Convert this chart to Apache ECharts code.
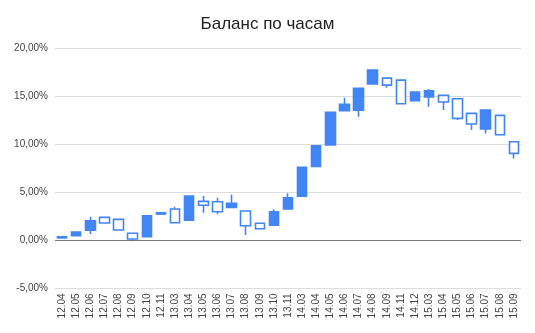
<!DOCTYPE html>
<html>
<head>
<meta charset="utf-8">
<script src="https://cdn.jsdelivr.net/npm/echarts@6/dist/echarts.min.js"></script>
<style>html,body{margin:0;padding:0;background:#fff;}#c{width:535px;height:333px;}</style>
</head>
<body>
<div id="c"></div>
<script>
const categories = ['12.04','12.05','12.06','12.07','12.08','12.09','12.10','12.11','13.03','13.04','13.05','13.06','13.07','13.08','13.09','13.10','13.11','14.03','14.04','14.05','14.06','14.07','14.08','14.09','14.11','14.12','15.03','15.04','15.05','15.06','15.07','15.08','15.09'];
const openVals  = [0.25,0.48,1.04,2.39,2.18,0.73,0.37,2.73,3.25,2.08,4.05,4.01,3.43,3.05,1.77,1.56,3.25,4.60,7.69,9.91,13.47,13.54,16.25,16.87,16.66,14.51,14.90,15.07,14.72,13.20,11.57,12.99,10.25];
const closeVals = [0.37,0.86,2.04,1.80,1.07,0.14,2.56,2.87,1.83,4.60,3.64,2.97,3.85,1.52,1.21,2.97,4.43,7.59,9.83,13.31,14.14,15.80,17.70,16.14,14.20,15.42,15.55,14.38,12.68,12.09,13.54,10.98,9.04];
const lowVals   = [0.25,0.48,0.65,1.80,1.07,-0.10,0.37,2.73,1.83,2.08,2.87,2.70,3.43,0.55,1.21,1.56,3.25,4.60,7.69,9.91,13.47,12.85,16.25,15.86,14.20,14.51,13.89,13.54,12.51,11.47,11.12,10.98,8.52];
const highVals  = [0.37,0.86,2.45,2.39,2.18,0.73,2.56,2.87,3.49,4.60,4.60,4.43,4.74,3.05,1.77,3.22,4.89,7.59,9.83,13.31,14.82,15.80,17.70,16.87,16.66,15.42,15.73,15.07,14.72,13.20,13.54,12.99,10.25];
const yTicks = { min: -5, max: 20, interval: 5 };

const candleData = categories.map((c, i) => [openVals[i], closeVals[i], lowVals[i], highVals[i]]);
const blue = '#4285F4';
const chart = echarts.init(document.getElementById('c'), null, { renderer: 'canvas' });
chart.setOption({
  animation: false,
  title: {
    text: 'Баланс по часам', left: 'center', top: 11,
    textStyle: { fontFamily: 'Liberation Sans, Arial, sans-serif', fontSize: 17, fontWeight: 'normal', color: '#222' }
  },
  grid: { left: 55, right: 14, top: 48, height: 240.4, containLabel: false },
  xAxis: {
    type: 'category', data: categories,
    axisLine: { show: false }, axisTick: { show: false },
    axisLabel: { rotate: 90, interval: 0, margin: 5, fontSize: 10, color: '#444', fontFamily: 'Liberation Sans, Arial, sans-serif' },
    splitLine: { show: false }
  },
  yAxis: {
    type: 'value', min: yTicks.min, max: yTicks.max, interval: yTicks.interval,
    axisLine: { show: false }, axisTick: { show: false },
    axisLabel: { margin: 7, fontSize: 10, color: '#444', fontFamily: 'Liberation Sans, Arial, sans-serif',
      formatter: v => v.toFixed(2).replace('.', ',') + '%' },
    splitLine: { lineStyle: { color: '#ddd', width: 1 } }
  },
  series: [{
    type: 'candlestick',
    data: candleData,
    barWidth: 10,
    itemStyle: { color: blue, color0: '#ffffff', borderColor: blue, borderColor0: blue, borderWidth: 1.6 },
    markLine: {
      silent: true, symbol: 'none', label: { show: false },
      lineStyle: { color: '#777', width: 1, type: 'solid' },
      data: [{ yAxis: 0 }], animation: false
    }
  }]
});
</script>
</body>
</html>
